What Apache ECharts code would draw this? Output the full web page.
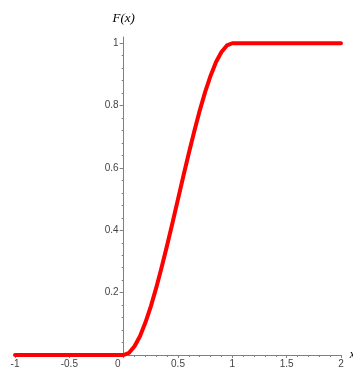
<!DOCTYPE html>
<html>
<head>
<meta charset="utf-8">
<script src="https://cdn.jsdelivr.net/npm/echarts@6/dist/echarts.min.js"></script>
<style>
html,body{margin:0;padding:0;background:#fff;}
#chart{width:353px;height:367px;}
</style>
</head>
<body>
<div id="chart"></div>
<script>
// x values and F(x) values
var xValues = [-1, 0, 0.05, 0.1, 0.15, 0.2, 0.25, 0.3, 0.35, 0.4, 0.45, 0.5, 0.55, 0.6, 0.65, 0.7, 0.75, 0.8, 0.85, 0.9, 0.95, 1, 2];
var fValues = [0, 0, 0.007, 0.028, 0.06, 0.104, 0.156, 0.216, 0.282, 0.352, 0.425, 0.5, 0.575, 0.648, 0.718, 0.784, 0.844, 0.896, 0.94, 0.972, 0.993, 1, 1];
var xTicks = [-1, -0.5, 0, 0.5, 1, 1.5, 2];
var yTicks = [0, 0.2, 0.4, 0.6, 0.8, 1];
var yTitle = 'F(x)';
var xTitle = 'x';

var points = xValues.map(function (x, i) { return [x, fValues[i]]; });

var gridLeft = 15, gridRight = 12, chartW = 353;
var xMin = -1, xMax = 2;
// put the y axis at x = 0 of the x scale
var yAxisOffset = -((0 - xMin) / (xMax - xMin)) * (chartW - gridLeft - gridRight);

var chart = echarts.init(document.getElementById('chart'), null, {renderer: 'canvas'});
var labelFont = {color: '#444', fontSize: 10, fontFamily: 'Liberation Sans, Arial, sans-serif'};
chart.setOption({
  animation: false,
  grid: {left: gridLeft, right: gridRight, top: 37, bottom: 12, containLabel: false, outerBoundsMode: 'none'},
  xAxis: {
    type: 'value', min: xMin, max: xMax, interval: 0.5,
    name: xTitle, nameLocation: 'end', nameGap: 8,
    nameTextStyle: {fontFamily: 'Liberation Serif, serif', fontStyle: 'italic', fontSize: 12, color: '#000'},
    axisLine: {onZero: false, lineStyle: {color: '#808080', width: 1}},
    axisTick: {show: true, length: 3, lineStyle: {color: '#808080'}},
    minorTick: {show: true, splitNumber: 5, length: 2, lineStyle: {color: '#808080'}},
    splitLine: {show: false},
    axisLabel: Object.assign({margin: 4, showMinLabel: true, showMaxLabel: true,
      formatter: function (v) {
        if (xTicks.indexOf(v) < 0) return '';
        if (v === 0) return '{z|0}';
        return String(v);
      },
      rich: {z: {fontSize: 10, color: '#444', fontFamily: 'Liberation Sans, Arial, sans-serif', padding: [0, 12, 0, 0]}}
    }, labelFont)
  },
  yAxis: {
    type: 'value', min: 0, max: 1.02, interval: 0.2,
    position: 'left', offset: yAxisOffset,
    name: yTitle, nameLocation: 'end', nameGap: 12,
    nameTextStyle: {fontFamily: 'Liberation Serif, serif', fontStyle: 'italic', fontSize: 13, color: '#000', align: 'center'},
    axisLine: {onZero: false, lineStyle: {color: '#808080', width: 1}},
    axisTick: {show: true, length: 4, customValues: yTicks, lineStyle: {color: '#808080'}},
    minorTick: {show: true, splitNumber: 5, length: 2, lineStyle: {color: '#808080'}},
    splitLine: {show: false},
    axisLabel: Object.assign({margin: 5,
      formatter: function (v) {
        var r = Math.round(v * 100) / 100;
        if (r === 0) return '';
        return yTicks.indexOf(r) >= 0 ? String(r) : '';
      }
    }, labelFont)
  },
  series: [{
    type: 'line',
    data: points,
    showSymbol: false,
    smooth: false,
    lineStyle: {color: '#ff0000', width: 4, join: 'round', cap: 'round'},
    itemStyle: {color: '#ff0000'},
    clip: false
  }]
});
</script>
</body>
</html>
